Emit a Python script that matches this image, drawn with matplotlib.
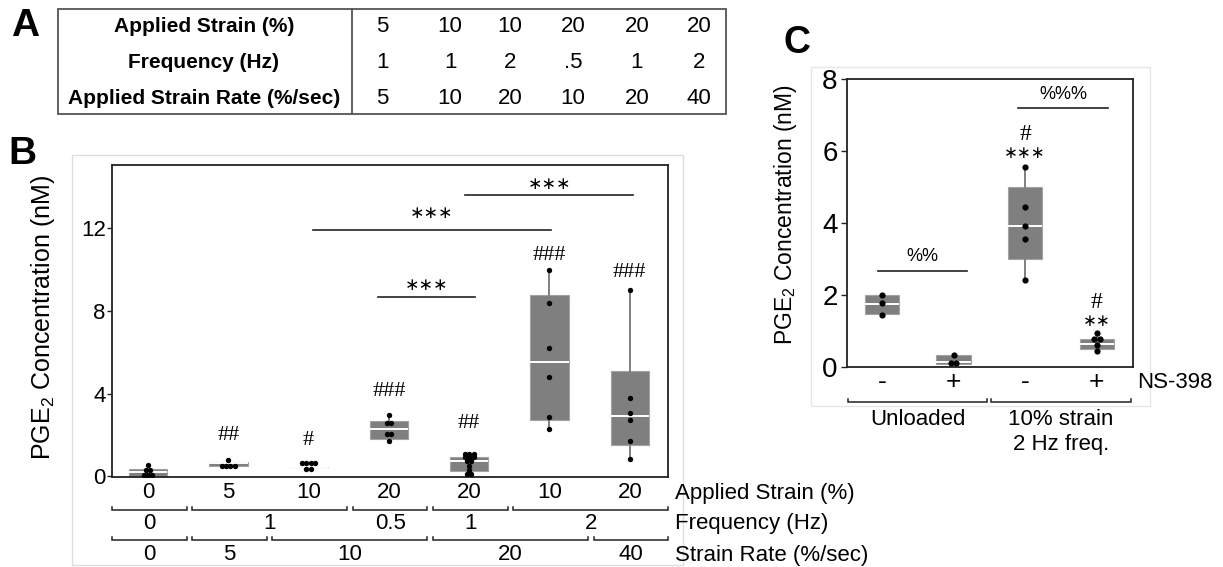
import matplotlib
matplotlib.use("Agg")
import matplotlib.pyplot as plt
from matplotlib.patches import Rectangle

W, H = 1223, 567

# ---- panel A table ----
table_rows = ["Applied Strain (%)", "Frequency (Hz)", "Applied Strain Rate (%/sec)"]
table_vals = [
    ["5", "10", "10", "20", "20", "20"],
    ["1", "1", "2", ".5", "1", "2"],
    ["5", "10", "20", "10", "20", "40"],
]

# ---- panel B ----
b_strain = ["0", "5", "10", "20", "20", "10", "20"]
b_freq_groups = [("0", 1, 1), ("1", 2, 3), ("0.5", 4, 4), ("1", 5, 5), ("2", 6, 7)]
b_rate_groups = [("0", 1, 1), ("5", 2, 2), ("10", 3, 4), ("20", 5, 6), ("40", 7, 7)]

b_q1 = [0.03, 0.52, 0.43, 1.81, 0.28, 2.73, 1.52]
b_med = [0.20, 0.64, 0.45, 2.28, 0.72, 5.52, 2.92]
b_q3 = [0.35, 0.70, 0.47, 2.68, 0.93, 8.77, 5.10]
b_lo = [0.03, 0.52, 0.43, 1.71, 0.09, 2.28, 0.85]
b_hi = [0.35, 0.78, 0.47, 2.99, 1.07, 10.0, 9.01]

b_points = [
    [0.57, 0.31, 0.31, 0.08, 0.08, 0.08],
    [0.78, 0.52, 0.52, 0.52, 0.52],
    [0.64, 0.64, 0.64, 0.64, 0.35, 0.35],
    [2.99, 2.57, 2.57, 2.04, 2.04, 1.71],
    [1.07, 1.07, 1.07, 0.92, 0.92, 0.92, 0.72, 0.72, 0.50, 0.31, 0.10, 0.10],
    [10.0, 8.37, 6.19, 4.79, 2.87, 2.28],
    [9.01, 3.79, 3.05, 2.73, 1.73, 0.85],
]

b_hash = ["", "##", "#", "###", "##", "###", "###"]
b_hash_y = [0, 1.98, 1.74, 4.10, 2.56, 10.7, 9.87]

# (x start, x end, line y, label y)
b_sig = [
    (4.95, 7.04, 13.6, 14.15),
    (3.05, 6.02, 11.9, 12.75),
    (3.86, 5.07, 8.67, 9.27),
]

# ---- panel C ----
c_ticks = ["-", "+", "-", "+"]
c_groups = [("Unloaded", 1, 2), ("10% strain\n2 Hz freq.", 3, 4)]

c_q1 = [1.47, 0.08, 3.00, 0.51]
c_med = [1.77, 0.16, 3.93, 0.65]
c_q3 = [2.00, 0.35, 5.00, 0.78]
c_lo = [1.44, 0.08, 2.43, 0.45]
c_hi = [2.02, 0.35, 5.55, 0.94]

c_points = [
    [2.02, 1.79, 1.44],
    [0.33, 0.11, 0.11],
    [5.55, 4.44, 3.93, 3.57, 2.43],
    [0.94, 0.78, 0.78, 0.62, 0.45],
]

c_stars = ["", "", "\u2217\u2217\u2217", "\u2217\u2217"]
c_stars_y = [0, 0, 5.95, 1.28]
c_hash = ["", "", "#", "#"]
c_hash_y = [0, 0, 6.47, 1.79]

c_sig = [
    (0.95, 2.19, 2.68, 3.07, "%%"),
    (2.90, 4.16, 7.20, 7.57, "%%%"),
]

NARROW = ["Liberation Sans Narrow", "Liberation Sans", "DejaVu Sans"]
ARIAL = ["Liberation Sans", "DejaVu Sans"]
SERIF = ["Liberation Serif", "DejaVu Serif"]
SYM = ["DejaVu Sans"]

plt.rcParams["font.family"] = NARROW
plt.rcParams["mathtext.fontset"] = "custom"
plt.rcParams["mathtext.rm"] = "Liberation Sans"

BOX_FACE = "#7f7f7f"
BOX_EDGE = "#a3a3a3"
DARK = "#222222"


def rect(l, t, r, b):
    return [l / W, 1 - b / H, (r - l) / W, (b - t) / H]


def dot_offsets(vals, step):
    counts = {}
    for v in vals:
        counts[v] = counts.get(v, 0) + 1
    seen = {}
    offs = []
    for v in vals:
        n = counts[v]
        k = seen.get(v, 0)
        seen[v] = k + 1
        offs.append((k - (n - 1) / 2) * step)
    return offs


def draw_boxes(ax, q1, med, q3, lo, hi, points, step, size):
    stats = []
    for i in range(len(q1)):
        stats.append({"q1": q1[i], "med": med[i], "q3": q3[i],
                      "whislo": lo[i], "whishi": hi[i], "fliers": []})
    pos = list(range(1, len(q1) + 1))
    ax.bxp(stats, positions=pos, widths=0.48, patch_artist=True,
           showcaps=False, showfliers=False,
           boxprops=dict(facecolor=BOX_FACE, edgecolor=BOX_EDGE, linewidth=0.8),
           medianprops=dict(color="white", linewidth=1.4),
           whiskerprops=dict(color=BOX_FACE, linewidth=1.4))
    for p, vals in zip(pos, points):
        offs = dot_offsets(vals, step)
        ax.scatter([p + o for o in offs], vals, s=size, color="black",
                   zorder=5, linewidths=0)


def bracket(ax, x1, x2, y, up=3.2):
    ax.plot([x1, x1, x2, x2], [y - up, y, y, y - up], color=DARK, lw=1.1,
            solid_joinstyle="miter", clip_on=False)


fig = plt.figure(figsize=(W / 100, H / 100), dpi=100)

# overlay in pixel units for table, panel letters and frames
ov = fig.add_axes([0, 0, 1, 1])
ov.set_xlim(0, W)
ov.set_ylim(H, 0)
ov.axis("off")
ov.set_zorder(-1)

# panel letters
ov.text(25, 26, "A", fontsize=28, fontweight="bold", ha="center", va="center")
ov.text(22, 154, "B", fontsize=28, fontweight="bold", ha="center", va="center")
ov.text(797, 43, "C", fontsize=27, fontweight="bold", ha="center", va="center",
        family=ARIAL)

# table
ov.add_patch(Rectangle((57.5, 9), 726 - 57.5, 114 - 9, fill=False,
                       edgecolor="#555555", lw=1.3))
ov.plot([351.5, 351.5], [9, 114], color="#555555", lw=1.3)
row_y = [27, 63, 98]
col_x = [382, 450, 510, 573, 637, 699]
for ry, name, vals in zip(row_y, table_rows, table_vals):
    ov.text(204, ry, name, fontsize=15, fontweight="bold", ha="center", va="center")
    for cx, v in zip(col_x, vals):
        ov.text(cx, ry, v, fontsize=16, ha="center", va="center")

# light frames behind B and C
ov.add_patch(Rectangle((72, 155), 683 - 72, 565 - 155, fill=False,
                       edgecolor="#dedede", lw=1.0))
ov.add_patch(Rectangle((811, 67), 1150 - 811, 406 - 67, fill=False,
                       edgecolor="#e6e6e6", lw=1.0))

# ---------------- panel B ----------------
axb = fig.add_axes(rect(112, 165, 668, 477))
draw_boxes(axb, b_q1, b_med, b_q3, b_lo, b_hi, b_points, 0.055, 15)
axb.set_xlim(0.552, 7.476)
axb.set_ylim(-0.03, 15.06)
axb.set_yticks([0, 4, 8, 12])
axb.set_yticklabels(["0", "4", "8", "12"], fontsize=16)
axb.set_xticks([])
axb.tick_params(axis="y", length=3.5, width=1, pad=1, color=DARK)
for s in axb.spines.values():
    s.set_linewidth(1.3)
    s.set_color(DARK)
axb.set_ylabel(r"PGE$_\mathregular{2}$ Concentration (nM)", fontsize=18,
               family=ARIAL)
axb.yaxis.set_label_coords((57 - 112) / 556, 0.51)

for i, h in enumerate(b_hash):
    if h:
        axb.text(i + 1, b_hash_y[i], h, fontsize=16, family=SERIF,
                 ha="center", va="center")
for x1, x2, ly, ty in b_sig:
    axb.plot([x1, x2], [ly, ly], color=DARK, lw=1.2)
    axb.text((x1 + x2) / 2, ty, "\u2217\u2217\u2217", fontsize=12.5, family=SYM,
             ha="center", va="center")

# category rows under B
axbl = fig.add_axes(rect(112, 478, 668, 567))
axbl.set_xlim(axb.get_xlim())
axbl.set_ylim(567, 478)
axbl.axis("off")
for i, lab in enumerate(b_strain):
    axbl.text(i + 1, 493, lab, fontsize=16, ha="center", va="center")
for lab, a, b in b_freq_groups:
    bracket(axbl, a - 0.45, b + 0.48, 509.7)
    axbl.text((a - 0.45 + b + 0.48) / 2, 523.5, lab, fontsize=16,
              ha="center", va="center")
for lab, a, b in b_rate_groups:
    bracket(axbl, a - 0.45, b + 0.48, 539.7)
    axbl.text((a - 0.45 + b + 0.48) / 2, 555, lab, fontsize=16,
              ha="center", va="center")
ov.text(675, 493, "Applied Strain (%)", fontsize=16, ha="left", va="center")
ov.text(675, 523.5, "Frequency (Hz)", fontsize=16, ha="left", va="center")
ov.text(675, 555, "Strain Rate (%/sec)", fontsize=16, ha="left", va="center")

# ---------------- panel C ----------------
axc = fig.add_axes(rect(846.7, 79, 1132.7, 367.3))
draw_boxes(axc, c_q1, c_med, c_q3, c_lo, c_hi, c_points, 0.08, 20)
axc.set_xlim(0.51, 4.5)
axc.set_ylim(0, 8)
axc.set_yticks([0, 2, 4, 6, 8])
axc.set_yticklabels(["0", "2", "4", "6", "8"], fontsize=20, family=ARIAL)
axc.set_xticks([])
axc.tick_params(axis="y", length=4, width=1, pad=2.5, color=DARK)
for s in axc.spines.values():
    s.set_linewidth(1.3)
    s.set_color(DARK)
axc.set_ylabel(r"PGE$_\mathregular{2}$ Concentration (nM)", fontsize=16.5,
               family=ARIAL)
axc.yaxis.set_label_coords((799 - 846.7) / 286, 0.53)

for i in range(len(c_stars)):
    if c_stars[i]:
        axc.text(i + 1, c_stars_y[i], c_stars[i], fontsize=12, family=SYM,
                 ha="center", va="center")
    if c_hash[i]:
        axc.text(i + 1, c_hash_y[i], c_hash[i], fontsize=17, family=SERIF,
                 ha="center", va="center")
for x1, x2, ly, ty, lab in c_sig:
    axc.plot([x1, x2], [ly, ly], color=DARK, lw=1.2)
    axc.text((x1 + x2) / 2, ty, lab, fontsize=13, family=ARIAL,
             ha="center", va="center")

axcl = fig.add_axes(rect(846.7, 368, 1132.7, 460))
axcl.set_xlim(axc.get_xlim())
axcl.set_ylim(460, 368)
axcl.axis("off")
for i, t in enumerate(c_ticks):
    axcl.text(i + 1, 382, t, fontsize=19, family=ARIAL, ha="center", va="center")
for lab, a, b in c_groups:
    bracket(axcl, a - 0.47, b + 0.47, 402)
    axcl.text((a + b) / 2, 409, lab, fontsize=16, family=ARIAL,
              ha="center", va="top", linespacing=1.25)
ov.text(1137, 382, "NS-398", fontsize=16, family=ARIAL, ha="left", va="center")

fig.savefig("out.png", dpi=100)
